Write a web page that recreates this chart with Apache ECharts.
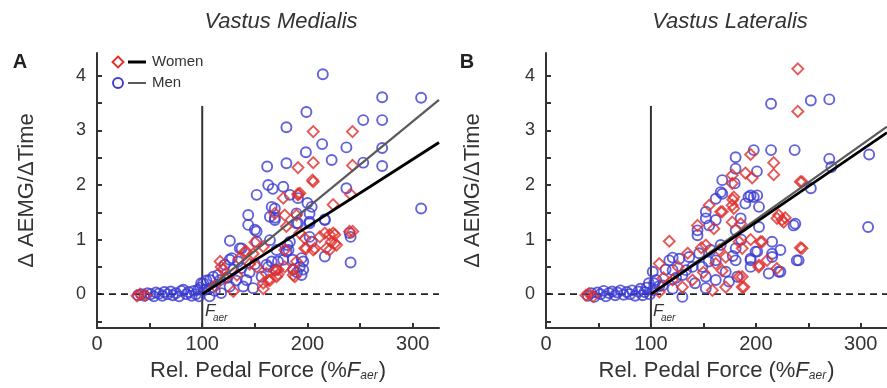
<!DOCTYPE html>
<html><head><meta charset="utf-8">
<script src="https://cdn.jsdelivr.net/npm/echarts@6/dist/echarts.min.js"></script>
<style>html,body{margin:0;padding:0;background:#fff}#c{width:887px;height:388px}</style>
</head><body><div id="c"></div>
<script>
// ---- axis ticks / labels ----
const xTicks = [0, 50, 100, 150, 200, 250, 300];
const xLabels = [0, 100, 200, 300];
const yTicks = [-0.5, 0, 0.5, 1, 1.5, 2, 2.5, 3, 3.5, 4];
const yLabels = [0, 1, 2, 3, 4];
const xRange = [0, 325];
const yRange = [-0.62, 4.42];
const panelTitles = ['Vastus Medialis', 'Vastus Lateralis'];
const panelLetters = ['A', 'B'];
const legendNames = ['Women', 'Men'];

// ---- Panel A: Vastus Medialis ----
const vmMen = [
 [39,-0.02],[42,0.0],[45,-0.03],[48,0.02],[51,0.0],[54,-0.04],[56,0.03],[59,0.01],[62,-0.03],[64,0.04],[67,0.0],[70,0.05],[72,-0.02],[75,0.02],[78,-0.04],[80,0.06],[82,0.08],[85,0.0],[87,0.04],[90,-0.03],[92,0.06],[94,0.0],[96,0.08],[97,-0.04],[98,0.12],[99,0.2],
 [101,0.2],[102.6,0.08],[104,0.25],[107,-0.04],[107.3,0.26],[109,0.12],[110.4,0.32],[112,0.06],[115,0.35],[117,0.26],[118,0.02],[121.5,0.54],[124,0.3],[126,0.14],[126,0.63],[128,0.66],[129.5,0.45],[132,0.25],[134,0.6],[137.4,0.48],[139,0.14],[142,0.26],[145,0.4],[148.4,0.11],[150,0.55],[156.4,0.32],[161,0.54],[166,0.6],[170,0.45],[177,0.63],[186,0.63],[192.7,0.5],[194.4,0.35],[196,0.6],[190,0.4],[172,0.6],[162.7,0.5],[196,0.45],[186.4,0.45],[194.4,0.66],[180,0.78],[181,0.9],
 [126.3,0.98],[135.7,0.84],[137.4,0.84],[151.7,0.96],[164.3,0.99],[170.6,0.81],[182,0.81],[183.3,0.96],[202,1.05],[204,0.96],[216.5,0.69],[240,1.12],[241,1.05],[241,0.58],[216.5,1.37],
 [143.7,1.45],[143.7,1.27],[150,1.18],[151.7,1.15],[164.3,1.42],[169,1.36],[169,1.57],[166,1.6],[169,1.4],[191,1.76],[189.6,1.3],[200,1.67],[202,1.33],[189.6,1.48],[191,1.3],[202,1.3],[202,1.48],[204,1.6],[216.5,1.36],[151.7,1.82],[162.7,2.0],[167,1.93],[177,1.97],[183.3,1.82],[237,1.94],[308,1.57],
 [161.7,2.34],[180,2.4],[198.5,2.6],[223,2.46],[253,2.41],[271,2.35],[214,2.75],[237,2.69],[271,2.68],[180,3.06],[199,3.34],[253,3.19],[271,3.19],[214.6,4.03],[271,3.61],[308,3.6]
];
const vmWomen = [
 [38,-0.03],[41,0.0],[46,-0.02],[112,0.15],[117,0.6],[118,0.5],[119.8,0.45],[122,0.3],[129.5,0.05],[133,0.35],[135,0.65],[140.5,0.78],[142,0.78],[145,0.55],[148.4,0.74],[150,0.95],[152,0.5],[158,0.87],[158,0.2],[158,0.1],[161,0.38],[162.7,0.26],[164.3,0.25],[169,0.43],[170.6,0.32],[172,0.45],[172,0.36],[178.4,0.5],[178.4,0.81],[186.4,0.45],[186.4,0.35],[188,0.32],[189.6,0.6],
 [192.7,1.12],[197.5,0.84],[197.5,1.02],[199,0.84],[205.5,0.81],[207,0.84],[211.7,1.05],[216.5,1.12],[218,0.84],[221,1.09],[222.7,0.96],[224.4,1.12],[226,1.09],[226,0.93],[227.6,0.9],[221,0.81],[243,1.15],[240,1.15],
 [169,1.48],[180,1.24],[177,1.76],[178.4,1.45],[189.6,1.45],[191,1.82],[192.7,1.85],[224.4,1.64],[241,1.83],[205.5,2.06],[204.8,2.09],[191,1.84],[191,2.32],[205.5,2.41],[242.8,2.36],[205.5,2.98],[242.8,2.98]
];
const vmWomenFit = [[100, 0], [325, 2.78]];
const vmMenFit = [[100, 0], [325, 3.56]];

// ---- Panel B: Vastus Lateralis ----
const vlMen = [
 [40,-0.03],[43,0.02],[46,-0.05],[49,0.03],[52,0.0],[55,0.06],[57,-0.04],[60,0.02],[63,0.05],[66,-0.02],[68,0.03],[71,0.07],[74,-0.01],[77,0.04],[80,0.0],[82,0.07],[85,-0.03],[88,0.05],[90,0.1],[92,-0.02],[94,0.04],[96,0.12],[98,0.2],[99,0.0],
 [101.7,0.41],[101.7,0.07],[103,0.2],[105,0.26],[108,0.15],[111.2,0.16],[114,0.45],[117.5,0.62],[120.7,0.44],[120.7,0.1],[120.7,0.67],[124,0.3],[127,0.65],[130,-0.05],[130,0.35],[133.4,0.44],[136.5,0.68],[139.6,0.5],[142,0.2],[146,0.75],[149,0.5],[152.3,0.32],[152.3,0.11],[155,0.6],[157,0.81],[161.8,0.26],[161.8,0.62],[166.5,0.9],[171.3,0.41],[174.4,0.23],[178,0.7],[180.8,0.84],[180.8,0.62],[182.3,0.32],[186,1.0],[195,0.65],[195,0.5],[199.7,0.78],[195,0.62],[201.3,0.78],[212.3,0.38],[215.5,0.96],[215.5,0.74],[215.5,0.68],[223.4,0.81],[223.4,0.41],[221.8,0.41],[239,0.62],[240.8,0.62],[236,1.26],[237.6,1.29],
 [144.4,1.17],[144.4,1.08],[152.3,1.51],[152.3,1.39],[155.5,1.26],[161.8,1.36],[161.8,1.75],[168,1.84],[168,2.09],[166.5,1.87],[179.8,2.03],[180.7,2.3],[180.7,2.51],[180.8,1.17],[185.5,1.39],[190,1.66],[193,1.78],[195,1.81],[198,1.78],[201.3,1.81],[203,1.6],[203,1.23],[201,2.25],[198,2.64],[214.5,2.64],[237,2.64],[214.5,3.49],[252.4,3.55],[270,3.57],[270,2.48],[272,2.33],[308,2.56],[252.4,1.94],[307,1.23]
];
const vlWomen = [
 [38,-0.02],[41,0.01],[45,-0.04],[108,0.56],[108,0.04],[112,0.3],[117.5,0.97],[120.7,0.26],[126,0.5],[130,0.13],[135,0.75],[139.6,0.26],[144.4,1.26],[148,0.85],[150,0.4],[152.3,0.9],[155.5,1.63],[158.6,0.07],[160,1.2],[161.8,0.56],[165,0.81],[166.5,1.51],[168,1.51],[168,0.43],[171.3,0.13],[171.3,0.68],[177.5,1.63],[177.5,1.32],[178,1.73],[179,1.57],[179,1.78],[177.5,2.03],[177.5,2.18],[184,0.32],[184,0.96],[187,0.84],[187,0.13],[187,0.32],[188.6,0.13],[185.5,1.29],[190,2.22],[195,2.56],[195,1.0],[196.5,2.13],[202.8,0.5],[203,0.53],[204.4,0.96],[206,0.96],[210.7,0.62],[217,2.41],[217,2.19],[220,0.47],[220.2,1.39],[221.8,1.45],[225,1.36],[226.5,1.32],[228,1.4],[242.4,0.85],[244,0.84],[242.4,2.06],[244,2.06],[240,3.35],[240,4.13]
];
const vlWomenFit = [[100, 0], [325, 2.96]];
const vlMenFit = [[100, 0], [325, 3.07]];

// reference lines
const zeroLine = [[0, 0], [325, 0]];
const faerLine = [[100, -0.62], [100, 3.45]];

const FONT = '"Liberation Sans", Arial, sans-serif';
const TXT = '#333';
const BLUE = '#3b3bd2';
const RED = '#e0302e';

function xAxisFor(i) {
  return {
    type: 'value', gridIndex: i, min: xRange[0], max: xRange[1],
    axisLine: { show: true, onZero: false, lineStyle: { color: '#333', width: 2 } },
    axisTick: { show: true, inside: true, length: 5, customValues: xTicks, lineStyle: { color: '#333', width: 2 } },
    axisLabel: { customValues: xLabels, fontSize: 20, color: TXT, margin: 6, fontFamily: FONT },
    splitLine: { show: false },
    name: '{n|Rel. Pedal Force (%}{i|F}{s|aer}{n|)}',
    nameLocation: 'middle', nameGap: 32,
    nameTextStyle: {
      color: TXT, fontFamily: FONT,
      rich: {
        n: { fontSize: 22, color: TXT, fontFamily: FONT },
        i: { fontSize: 22, color: TXT, fontFamily: FONT, fontStyle: 'italic' },
        s: { fontSize: 12, color: TXT, fontFamily: FONT, fontStyle: 'italic', verticalAlign: 'bottom', padding: [10, 1, 0, 0] }
      }
    }
  };
}
function yAxisFor(i, gap) {
  return {
    type: 'value', gridIndex: i, min: yRange[0], max: yRange[1],
    axisLine: { show: true, onZero: false, lineStyle: { color: '#333', width: 2 } },
    axisTick: { show: true, inside: true, length: 5, customValues: yTicks, lineStyle: { color: '#333', width: 2 } },
    axisLabel: { customValues: yLabels, fontSize: 18, color: TXT, margin: 11, fontFamily: FONT },
    splitLine: { show: false },
    name: 'Δ AEMG/ΔTime', nameLocation: 'middle', nameGap: gap,
    nameTextStyle: { fontSize: 22, color: TXT, fontFamily: FONT }
  };
}
function panelSeries(i, men, women, womenFit, menFit) {
  return [
    { type: 'line', xAxisIndex: i, yAxisIndex: i, data: zeroLine, symbol: 'none', silent: true,
      lineStyle: { color: '#222', width: 1.6, type: [7, 5] }, z: 1 },
    { type: 'line', xAxisIndex: i, yAxisIndex: i, data: faerLine, symbol: 'none', silent: true,
      lineStyle: { color: '#333', width: 2 }, z: 1 },
    { type: 'scatter', name: 'Men', xAxisIndex: i, yAxisIndex: i, data: men, symbol: 'circle', symbolSize: 10,
      itemStyle: { color: 'rgba(255,255,255,0)', borderColor: BLUE, borderWidth: 1.9 }, z: 2 },
    { type: 'scatter', name: 'Women', xAxisIndex: i, yAxisIndex: i, data: women, symbol: 'diamond', symbolSize: 11,
      itemStyle: { color: 'rgba(255,255,255,0)', borderColor: RED, borderWidth: 1.9 }, z: 3 },
    { type: 'line', xAxisIndex: i, yAxisIndex: i, data: menFit, symbol: 'none', silent: true,
      lineStyle: { color: '#5a5a5a', width: 2.2 }, z: 4 },
    { type: 'line', xAxisIndex: i, yAxisIndex: i, data: womenFit, symbol: 'none', silent: true,
      lineStyle: { color: '#000', width: 2.8 }, z: 5 }
  ];
}

const chart = echarts.init(document.getElementById('c'), null, { renderer: 'canvas' });
const txt = (text, x, y, size, opts = {}) => ({
  type: 'text', x, y, z: 10,
  style: Object.assign({ text, fontSize: size, fontFamily: FONT, fill: TXT, align: 'center', verticalAlign: 'middle' }, opts)
});
chart.setOption({
  backgroundColor: '#fff',
  animation: false,
  grid: [
    { left: 97, top: 53, width: 342, height: 275 },
    { left: 546, top: 53, width: 343, height: 275 }
  ],
  xAxis: [xAxisFor(0), xAxisFor(1)],
  yAxis: [yAxisFor(0, 59), yAxisFor(1, 62)],
  series: [].concat(
    panelSeries(0, vmMen, vmWomen, vmWomenFit, vmMenFit),
    panelSeries(1, vlMen, vlWomen, vlWomenFit, vlMenFit)
  ),
  graphic: [
    txt(panelTitles[0], 281, 22, 22, { fontStyle: 'italic' }),
    txt(panelTitles[1], 730, 22, 22, { fontStyle: 'italic' }),
    txt(panelLetters[0], 20, 62, 20, { fontWeight: 'bold', fill: '#222' }),
    txt(panelLetters[1], 467, 62, 20, { fontWeight: 'bold', fill: '#222' }),
    // legend
    { type: 'polygon', z: 10, shape: { points: [[118, 56.5], [123.5, 62], [118, 67.5], [112.5, 62]] },
      style: { fill: 'none', stroke: RED, lineWidth: 1.9 } },
    { type: 'line', z: 10, shape: { x1: 128, y1: 62, x2: 146, y2: 62 }, style: { stroke: '#000', lineWidth: 3 } },
    txt(legendNames[0], 152, 62, 15, { align: 'left' }),
    { type: 'circle', z: 10, shape: { cx: 118, cy: 83, r: 5 }, style: { fill: 'none', stroke: BLUE, lineWidth: 1.9 } },
    { type: 'line', z: 10, shape: { x1: 128, y1: 83, x2: 146, y2: 83 }, style: { stroke: '#5a5a5a', lineWidth: 2 } },
    txt(legendNames[1], 152, 83, 15, { align: 'left' }),
    // F_aer annotations
    txt('F', 205, 311, 17, { align: 'left', fontStyle: 'italic' }),
    txt('aer', 213, 318, 10, { align: 'left', fontStyle: 'italic' }),
    txt('F', 653, 311, 17, { align: 'left', fontStyle: 'italic' }),
    txt('aer', 661, 318, 10, { align: 'left', fontStyle: 'italic' })
  ]
});
</script>
</body></html>
